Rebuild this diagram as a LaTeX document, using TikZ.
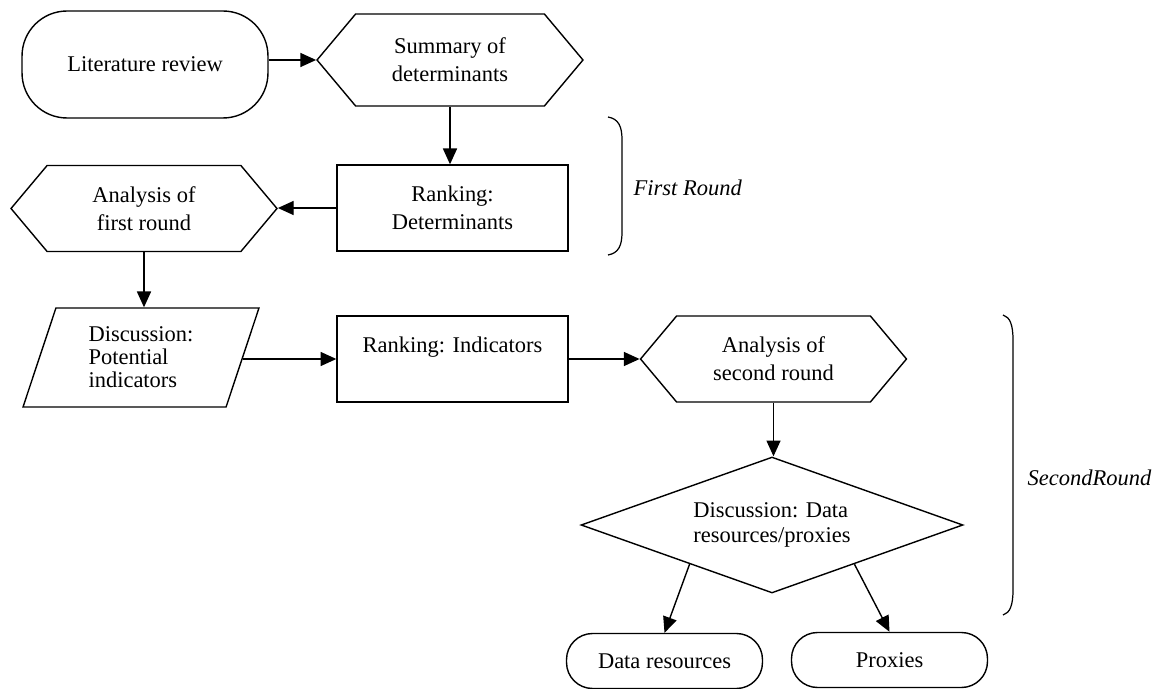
\documentclass[tikz,border=0pt]{standalone}
\usepackage{fontspec}
\setmainfont{Liberation Serif}
\usepackage{tikz}
\usetikzlibrary{positioning,arrows.meta,shapes.geometric,shapes.symbols,calc}

\begin{document}
\begin{tikzpicture}[
    x=0.02cm, y=-0.02cm,
    every node/.style={font=\fontsize{12.8}{15.9}\selectfont, line width=0.8pt},
    terminal/.style={
        draw,
        rounded corners=0.9cm,
        minimum width=4.92cm,
        minimum height=2.14cm,
        align=center
    },
    smallterm/.style={
        draw,
        rounded corners=0.52cm,
        minimum width=3.92cm,
        minimum height=1.1cm,
        align=center
    },
    hexa/.style={
        draw,
        signal,
        signal to=east and west,
        signal pointer angle=100,
        minimum width=5.32cm,
        minimum height=1.72cm,
        align=center
    },
    rankbox/.style={
        draw,
        rectangle,
        minimum width=4.62cm,
        minimum height=1.72cm,
        align=center
    },
    inputbox/.style={
        draw,
        trapezium,
        trapezium left angle=65.6,
        trapezium right angle=114.4,
        trapezium stretches body,
        minimum width=4.72cm,
        minimum height=1.98cm,
        align=left
    },
    decision/.style={
        draw,
        diamond,
        shape aspect=2.8,
        minimum width=7.64cm,
        minimum height=2.72cm,
        align=left
    },
    flow/.style={-{Triangle[length=9pt,width=8pt]}, line width=0.8pt},
    roundlabel/.style={font=\fontsize{12.8}{15.9}\selectfont\itshape, anchor=west, inner sep=0pt}
]

\useasboundingbox (0,0) rectangle (1162,689);

% first round
\node[terminal] (lit) at (145,64.5) {Literature review};
\node[hexa, minimum height=1.84cm] (summ) at (450,60) {Summary of\\determinants};
\node[rankbox] (rdet) at (452.5,208) {Ranking:\\Determinants};
\node[hexa] (an1) at (144,208.5) {Analysis of\\first round};

% second round
\node[inputbox, font=\fontsize{12.8}{13}\selectfont] (disc1) at (141,357.5) {Discussion:\\Potential\\indicators};
\node[rankbox] (rind) at (452.5,359) {Ranking: Indicators\\~};
\node[hexa] (an2) at (773.5,359) {Analysis of\\second round};
\node[decision, font=\fontsize{12.8}{14.5}\selectfont] (disc2) at (772,525) {Discussion: Data\\resources/proxies};
\node[smallterm] (dres) at (664.5,661) {Data resources};
\node[smallterm] (prox) at (889.5,660) {Proxies};

\draw[flow] (lit.east |- summ.west) -- (summ.west);
\draw[flow] (summ.south) -- (summ.south |- rdet.north);
\draw[flow] (rdet.west) -- (rdet.west -| an1.east);
\draw[flow] (an1.south) -- (an1.south |- disc1.north);
\draw[flow] (disc1.east |- rind.west) -- (rind.west);
\draw[flow] (rind.east) -- (an2.west);
\draw[flow] (an2.south) -- (an2.south |- disc2.north);
\draw[flow] ($(disc2.west)!0.57!(disc2.south)$) -- (dres.north);
\draw[flow] ($(disc2.east)!0.57!(disc2.south)$) -- (prox.north);

% brackets
\draw[line width=0.7pt] (608,117) .. controls (619,119) and (622,127) .. (622,140)
    -- (622,232) .. controls (622,245) and (619,253) .. (608,255);
\draw[line width=0.7pt] (1003,315) .. controls (1010,317) and (1013,325) .. (1013,340)
    -- (1013,590) .. controls (1013,605) and (1010,613) .. (1003,615);
\node[roundlabel] (r1) at (633,188) {First Round};
\node[roundlabel] (r2) at (1027,478) {SecondRound};

\end{tikzpicture}
\end{document}
